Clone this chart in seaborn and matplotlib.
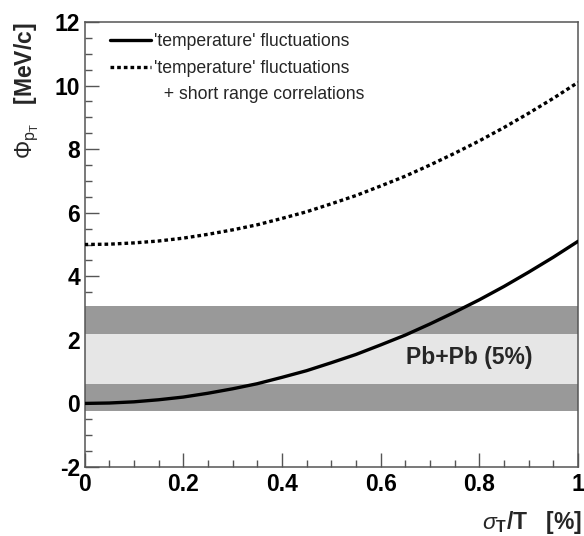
import matplotlib
matplotlib.use("Agg")
import matplotlib.pyplot as plt
from matplotlib.ticker import MultipleLocator
from matplotlib.lines import Line2D
import numpy as np
import pandas as pd
import seaborn as sns

# sigma_T / T values at which both model curves are evaluated
sigma_t = [0.00, 0.05, 0.10, 0.15, 0.20, 0.25, 0.30, 0.35, 0.40, 0.45, 0.50,
           0.55, 0.60, 0.65, 0.70, 0.75, 0.80, 0.85, 0.90, 0.95, 1.00]
# Phi_pT from 'temperature' fluctuations only [MeV/c]
phi_temp = [0.00, 0.013, 0.05, 0.115, 0.20, 0.32, 0.46, 0.62, 0.82, 1.03, 1.28,
            1.54, 1.84, 2.15, 2.50, 2.87, 3.26, 3.68, 4.13, 4.60, 5.10]
# Phi_pT from 'temperature' fluctuations + short range correlations [MeV/c]
phi_temp_src = [5.00, 5.01, 5.05, 5.11, 5.20, 5.32, 5.46, 5.62, 5.82, 6.03, 6.28,
                6.54, 6.84, 7.15, 7.50, 7.87, 8.26, 8.68, 9.13, 9.60, 10.10]
# Pb+Pb (5%) measurement: total and statistical bands [MeV/c]
band_total = (-0.25, 3.05)
band_stat = (0.60, 2.20)

label_temp = "'temperature' fluctuations"
label_src = "'temperature' fluctuations"
label_src2 = "  + short range correlations"

sns.set_theme(style="ticks")
plt.rcParams["font.family"] = ["Liberation Sans", "DejaVu Sans"]
plt.rcParams["mathtext.fontset"] = "custom"
plt.rcParams["mathtext.rm"] = "Liberation Sans"
plt.rcParams["mathtext.it"] = "Liberation Sans:italic"
plt.rcParams["mathtext.bf"] = "Liberation Sans:bold"

W, H = 584, 536
fig = plt.figure(figsize=(W / 100, H / 100), dpi=100)
fig.patch.set_facecolor("white")
ax = fig.add_axes([84.5 / W, 1 - 467 / H, (578 - 84.5) / W, (467 - 22) / H])
ax.set_facecolor("white")

ax.axhspan(*band_total, color="#999999", lw=0, zorder=1)
ax.axhspan(*band_stat, color="#e6e6e6", lw=0, zorder=1)

dot_style = (0, (1.1, 0.9))
df = pd.DataFrame({"x": sigma_t, "temp": phi_temp, "src": phi_temp_src})
sns.lineplot(data=df, x="x", y="temp", ax=ax, color="black", lw=2.4, zorder=3)
sns.lineplot(data=df, x="x", y="src", ax=ax, color="black", lw=2.4, zorder=3,
             linestyle=dot_style)

ax.set_xlim(0, 1)
ax.set_ylim(-2, 12)
ax.xaxis.set_minor_locator(MultipleLocator(0.05))
ax.yaxis.set_minor_locator(MultipleLocator(0.5))
ax.set_xticks([0, 0.2, 0.4, 0.6, 0.8, 1.0])
ax.set_xticklabels(["0", "0.2", "0.4", "0.6", "0.8", "1"])
ax.set_yticks(list(range(-2, 13, 2)))
ax.set_yticklabels([str(v) for v in range(-2, 13, 2)])
ax.tick_params(which="both", direction="in", color="#555555", width=1,
               top=False, right=False)
ax.tick_params(which="major", length=10)
ax.tick_params(which="minor", length=5)
ax.tick_params(axis="x", which="major", pad=4)
ax.tick_params(axis="y", which="major", pad=3)
for lab in ax.get_xticklabels() + ax.get_yticklabels():
    lab.set_fontsize(16.5)
    lab.set_fontweight("bold")
    lab.set_color("black")
for sp in ax.spines.values():
    sp.set_color("#555555")
    sp.set_linewidth(1.1)
ax.set_xlabel("")
ax.set_ylabel("")

handles = [Line2D([], [], color="black", lw=2.4),
           Line2D([], [], color="black", lw=2.4, linestyle=dot_style),
           Line2D([], [], color="none")]
leg = fig.legend(handles, [label_temp, label_src, label_src2],
                 loc="upper left", bbox_to_anchor=(110 / W, 1 - 33 / H),
                 frameon=False, fontsize=12.7, handlelength=2.3,
                 handletextpad=0.2, labelspacing=0.55, borderpad=0,
                 borderaxespad=0)

ax.text(0.78, 1.45, "Pb+Pb (5%)", fontsize=16.5, fontweight="bold",
        ha="center", va="center", zorder=4)

fig.text(27 / W, 1 - 22 / H,
         r"$\Phi_{\mathrm{p}_{\mathrm{T}}}\ \ \ \mathbf{[MeV/c]}$",
         rotation=90, ha="center", va="top", fontsize=16.5)
fig.text(582 / W, 1 - 522 / H,
         r"$\sigma_{\mathbf{T}}\mathbf{/T}\ \ \ \mathbf{[\%]}$",
         ha="right", va="center", fontsize=16.5)

fig.savefig("out.png", dpi=100, facecolor="white")
